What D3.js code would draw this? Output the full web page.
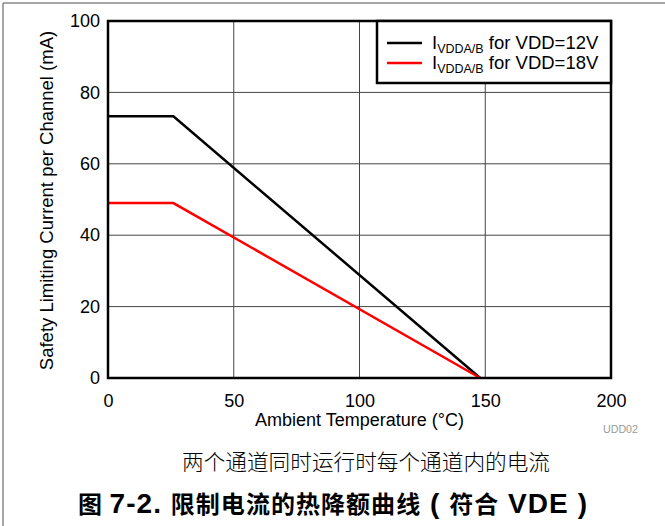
<!DOCTYPE html>
<html><head><meta charset="utf-8">
<script src="https://cdn.jsdelivr.net/npm/d3@7"></script>
<style>body{margin:0;background:#fff}svg{display:block}</style>
</head><body>
<script>
const xTicks = [0, 50, 100, 150, 200];
const yTicks = [0, 20, 40, 60, 80, 100];
const temp12 = [0, 26, 148];
const cur12 = [73.3, 73.3, 0];
const temp18 = [0, 26, 148];
const cur18 = [49, 49, 0];
const seriesNames = ["for VDD=12V", "for VDD=18V"];
const seriesColors = ["#000000", "#ff0000"];

const W = 665, H = 526;
const svg = d3.select("body").append("svg").attr("width", W).attr("height", H);
const font = "Liberation Sans, Arial, sans-serif";

// outer frame lines
svg.append("line").attr("x1", 3).attr("x2", 3).attr("y1", 3).attr("y2", H).attr("stroke", "#888").attr("stroke-width", 1.5);
svg.append("line").attr("x1", 3).attr("x2", W).attr("y1", 3).attr("y2", 3).attr("stroke", "#888").attr("stroke-width", 1.5);

const x = d3.scaleLinear().domain([0, 200]).range([108, 611]);
const y = d3.scaleLinear().domain([0, 100]).range([378, 21]);

// grid
svg.append("g").selectAll("line").data(xTicks.slice(1, -1)).join("line")
  .attr("x1", d => x(d)).attr("x2", d => x(d)).attr("y1", y(100)).attr("y2", y(0))
  .attr("stroke", "#444").attr("stroke-width", 1);
svg.append("g").selectAll("line").data(yTicks.slice(1, -1)).join("line")
  .attr("y1", d => y(d)).attr("y2", d => y(d)).attr("x1", x(0)).attr("x2", x(200))
  .attr("stroke", "#444").attr("stroke-width", 1);

// axes labels via d3 axes
const xAxis = svg.append("g").attr("transform", `translate(0,${y(0)})`)
  .call(d3.axisBottom(x).tickValues(xTicks).tickSize(0).tickPadding(16));
const yAxis = svg.append("g").attr("transform", `translate(${x(0)},0)`)
  .call(d3.axisLeft(y).tickValues(yTicks).tickSize(0).tickPadding(8));
[xAxis, yAxis].forEach(a => {
  a.select(".domain").remove();
  a.selectAll("text").attr("font-family", font).attr("font-size", 18).attr("fill", "#000");
});

// lines
const line = d3.line().x(d => x(d[0])).y(d => y(d[1]));
const series = [d3.zip(temp12, cur12), d3.zip(temp18, cur18)];
svg.append("g").selectAll("path").data(series).join("path")
  .attr("d", line).attr("fill", "none")
  .attr("stroke", (d, i) => seriesColors[i]).attr("stroke-width", 2.5);

// plot frame
svg.append("rect").attr("x", x(0)).attr("y", y(100)).attr("width", x(200) - x(0)).attr("height", y(0) - y(100))
  .attr("fill", "none").attr("stroke", "#000").attr("stroke-width", 2.5);

// legend
const lg = svg.append("g");
lg.append("rect").attr("x", 377).attr("y", y(100)).attr("width", x(200) - 377).attr("height", 62)
  .attr("fill", "#fff").attr("stroke", "#000").attr("stroke-width", 2.5);
seriesNames.forEach((name, i) => {
  const cy = 43 + i * 20;
  lg.append("line").attr("x1", 387).attr("x2", 422).attr("y1", cy).attr("y2", cy)
    .attr("stroke", seriesColors[i]).attr("stroke-width", 2.5);
  const t = lg.append("text").attr("x", 432).attr("y", cy + 6).attr("font-family", font).attr("font-size", 18.5).attr("fill", "#000");
  t.append("tspan").text("I");
  t.append("tspan").attr("font-size", 12.5).attr("dy", 4).text("VDDA/B");
  t.append("tspan").attr("dy", -4).text(" " + name);
});

// axis titles
svg.append("text").attr("x", (x(0) + x(200)) / 2).attr("y", 426).attr("text-anchor", "middle")
  .attr("font-family", font).attr("font-size", 18).text("Ambient Temperature (°C)");
svg.append("text").attr("transform", `translate(53,${(y(0) + y(100)) / 2 + 1}) rotate(-90)`).attr("text-anchor", "middle")
  .attr("font-family", font).attr("font-size", 18.5).text("Safety Limiting Current per Channel (mA)");

svg.append("text").attr("x", 603).attr("y", 433)
  .attr("font-family", font).attr("font-size", 11.5).attr("fill", "#999")
  .attr("textLength", 35).attr("lengthAdjust", "spacingAndGlyphs").text("UDD02");

// captions
svg.append("text").attr("x", 182).attr("y", 470)
  .attr("font-family", "Noto Sans CJK SC").attr("font-weight", 300).attr("font-size", 21.5)
  .attr("textLength", 368).attr("lengthAdjust", "spacingAndGlyphs").text("两个通道同时运行时每个通道内的电流");
const title = svg.append("text").attr("x", 78).attr("y", 513)
  .attr("font-family", "Liberation Sans, Noto Sans CJK SC").attr("font-weight", "bold")
  .attr("textLength", 509).attr("lengthAdjust", "spacing");
const titleParts = [["图 ", 24], ["7-2. ", 28], ["限制电流的热降额曲线", 24], [" ( ", 28], ["符合", 24], [" VDE )", 28]];
titleParts.forEach(([s, fs]) => {
  title.append("tspan").attr("font-size", fs)
    .attr("font-family", fs === 24 ? "Noto Sans CJK SC" : "Liberation Sans, Arial, sans-serif").text(s);
});
</script>
</body></html>
